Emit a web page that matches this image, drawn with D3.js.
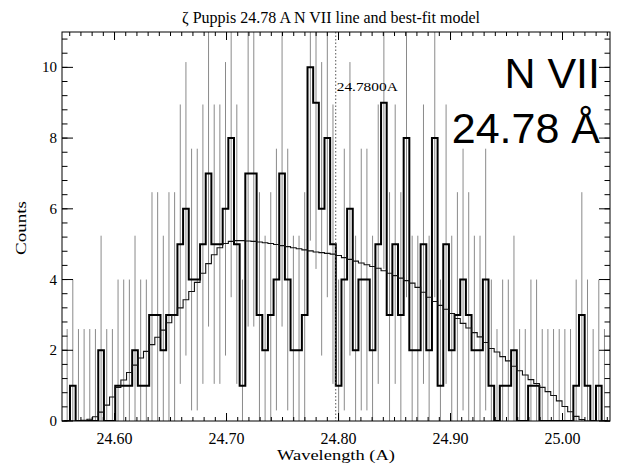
<!DOCTYPE html>
<html><head><meta charset="utf-8">
<script src="https://cdn.jsdelivr.net/npm/d3@7"></script>
<style>body{margin:0;background:#fff}svg{display:block}</style>
</head><body><svg id="c" width="620" height="464"></svg>
<script>
// ---- data ----
const binStart = 24.5577;   // centre of first bin (Å)
const binWidth = 0.00505;   // Å
const counts = [0,1,0,0,0,0,2,0,0,1, 1,1,2,1,1,3,3,2,3,3, 5,6,4,4,5,7,5,5,6,8,
                5,1,7,7,3,2,3,4,7,4, 2,2,3,10,9,6,8,5,1,4, 6,2,4,4,2,5,9,3,5,3,
                8,2,2,5,2,8,1,5,2,3, 4,3,2,2,4,1,0,1,1,2, 0,0,1,1,0,0,0,0,0,0,
                1,3,1,0,1,0];
const model = [0,0,0,0.02,0.05,0.12,0.25,0.45,0.68,0.95, 1.16,1.37,1.58,1.78,1.97,2.16,2.37,2.57,2.78,2.99,
               3.2,3.43,3.66,3.92,4.18,4.45,4.7,4.9,5.02,5.08, 5.1,5.1,5.09,5.08,5.06,5.04,5.02,4.99,4.96,4.93,
               4.9,4.87,4.84,4.81,4.78,4.76,4.74,4.72,4.68,4.62, 4.57,4.52,4.47,4.42,4.37,4.32,4.25,4.18,4.11,4.04,
               3.97,3.9,3.78,3.64,3.5,3.38,3.27,3.16,3.04,2.9, 2.76,2.63,2.5,2.38,2.22,2.05,1.95,1.82,1.7,1.55,
               1.42,1.3,1.17,1.06,0.95,0.83,0.72,0.57,0.41,0.26, 0.13,0.04,0,0,0,0];
// half-length of the error bar for a bin holding N counts (index = N)
const errorByCount = [2.6,3.0,3.24,3.47,3.7,3.95,4.15,4.33,4.5,4.7,4.9];
const xTickValues = [24.60,24.70,24.80,24.90,25.00];
const yTickValues = [0,2,4,6,8,10];
const markerPosition = 24.7975;   // where the dotted "24.7800A" marker sits on the axis
const titleText = "ζ Puppis 24.78 A N VII line and best-fit model";
const xLabel = "Wavelength (A)";
const yLabel = "Counts";
const markerLabel = "24.7800A";
const ionLabel = "N VII";
const waveLabel = "24.78 Å";

// ---- layout ----
const L = 62, R = 610, T = 32, B = 421;
const svg = d3.select("#c");
const x = d3.scaleLinear().domain([24.5531, 25.0424]).range([L, R]);
const y = d3.scaleLinear().domain([0, 11]).range([B, T]);
const serif = "'Liberation Serif','DejaVu Serif',serif";

const bins = counts.map((c, i) => ({w: binStart + i * binWidth, c, m: model[i]}));

svg.append("defs").append("clipPath").attr("id", "clip")
  .append("rect").attr("x", L).attr("y", T).attr("width", R - L).attr("height", B - T);
const g = svg.append("g").attr("clip-path", "url(#clip)");

// error bars
g.selectAll("line.err").data(bins).join("line").attr("class", "err")
  .attr("x1", d => x(d.w)).attr("x2", d => x(d.w))
  .attr("y1", d => y(Math.max(0, d.c - errorByCount[d.c])))
  .attr("y2", d => y(d.c + errorByCount[d.c]))
  .attr("stroke", "#8a8a8a").attr("stroke-width", 1);

function stepPts(key) {
  const pts = bins.map(d => [d.w, d[key]]);
  pts.unshift([bins[0].w - binWidth / 2, bins[0][key]]);
  pts.push([bins[bins.length - 1].w + binWidth / 2, bins[bins.length - 1][key]]);
  return pts;
}
const stepLine = d3.line().x(d => x(d[0])).y(d => y(d[1])).curve(d3.curveStep);

// data histogram
g.append("path").attr("d", stepLine(stepPts("c")))
  .attr("fill", "none").attr("stroke", "#000").attr("stroke-width", 2);
// model
g.append("path").attr("d", stepLine(stepPts("m")))
  .attr("fill", "none").attr("stroke", "#111").attr("stroke-width", 1.1);

// dotted marker line
svg.append("line").attr("x1", x(markerPosition)).attr("x2", x(markerPosition))
  .attr("y1", T).attr("y2", B).attr("stroke", "#555").attr("stroke-width", 1)
  .attr("stroke-dasharray", "1.5,2");
svg.append("text").attr("x", x(markerPosition) + 1).attr("y", 91)
  .attr("font-family", serif).attr("font-size", 13.5).attr("textLength", 61)
  .attr("lengthAdjust", "spacingAndGlyphs").text(markerLabel);

// axes box
svg.append("rect").attr("x", L).attr("y", T).attr("width", R - L).attr("height", B - T)
  .attr("fill", "none").attr("stroke", "#000").attr("stroke-width", 1);

const xMajorLen = 8, xMinorLen = 4, yMajorLen = 11, yMinorLen = 5.5;
const xMinor = d3.range(24.56, 25.05, 0.01).filter(v => v >= 24.5531 && v <= 25.0424);
const yMinor = d3.range(0, 11.01, 0.4);
const ticks = svg.append("g").attr("stroke", "#000").attr("stroke-width", 1);
xMinor.forEach(v => {
  ticks.append("line").attr("x1", x(v)).attr("x2", x(v)).attr("y1", B).attr("y2", B - xMinorLen);
  ticks.append("line").attr("x1", x(v)).attr("x2", x(v)).attr("y1", T).attr("y2", T + xMinorLen);
});
xTickValues.forEach(v => {
  ticks.append("line").attr("x1", x(v)).attr("x2", x(v)).attr("y1", B).attr("y2", B - xMajorLen);
  ticks.append("line").attr("x1", x(v)).attr("x2", x(v)).attr("y1", T).attr("y2", T + xMajorLen);
});
yMinor.forEach(v => {
  ticks.append("line").attr("x1", L).attr("x2", L + yMinorLen).attr("y1", y(v)).attr("y2", y(v));
  ticks.append("line").attr("x1", R).attr("x2", R - yMinorLen).attr("y1", y(v)).attr("y2", y(v));
});
yTickValues.forEach(v => {
  ticks.append("line").attr("x1", L).attr("x2", L + yMajorLen).attr("y1", y(v)).attr("y2", y(v));
  ticks.append("line").attr("x1", R).attr("x2", R - yMajorLen).attr("y1", y(v)).attr("y2", y(v));
});

// tick labels
svg.append("g").selectAll("text").data(xTickValues).join("text")
  .attr("x", d => x(d)).attr("y", 444).attr("text-anchor", "middle")
  .attr("font-family", serif).attr("font-size", 16).text(d => d.toFixed(2));
svg.append("g").selectAll("text").data(yTickValues).join("text")
  .attr("x", 57).attr("y", d => y(d) + 5).attr("text-anchor", "end")
  .attr("font-family", serif).attr("font-size", 15).text(d => d);

// titles
svg.append("text").attr("x", 331).attr("y", 23).attr("text-anchor", "middle")
  .attr("font-family", serif).attr("font-size", 16).text(titleText);
svg.append("text").attr("x", 336).attr("y", 460).attr("text-anchor", "middle")
  .attr("font-family", serif).attr("font-size", 15).attr("textLength", 118)
  .attr("lengthAdjust", "spacingAndGlyphs").text(xLabel);
svg.append("text").attr("transform", "translate(26,228) rotate(-90)").attr("text-anchor", "middle")
  .attr("font-family", serif).attr("font-size", 15).attr("textLength", 54)
  .attr("lengthAdjust", "spacingAndGlyphs").text(yLabel);

// big labels
const sans = "'Liberation Sans',Arial,sans-serif";
svg.append("text").attr("x", 600).attr("y", 88).attr("text-anchor", "end")
  .attr("font-family", sans).attr("font-size", 43).text(ionLabel);
svg.append("text").attr("x", 600).attr("y", 143).attr("text-anchor", "end")
  .attr("font-family", sans).attr("font-size", 43).text(waveLabel);
</script></body></html>
